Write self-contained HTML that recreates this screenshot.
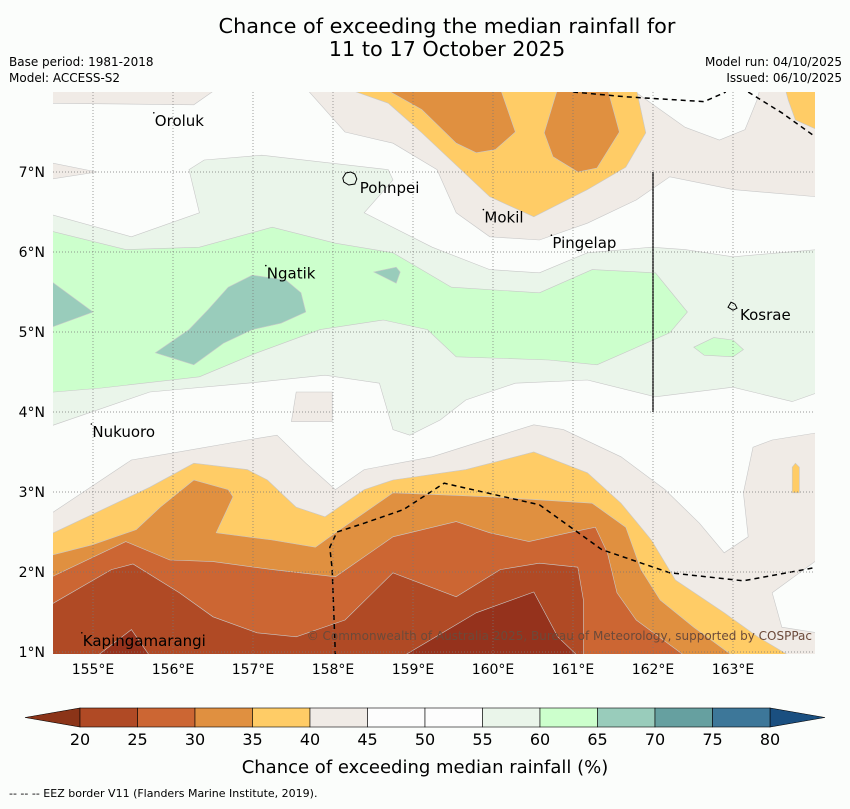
<!DOCTYPE html>
<html><head><meta charset="utf-8"><style>
body{margin:0;background:#fbfdfb;font-family:"Liberation Sans","DejaVu Sans",sans-serif;}
svg text{font-family:"DejaVu Sans","Liberation Sans",sans-serif;}
</style></head><body>
<svg id="c" width="850" height="804" xmlns="http://www.w3.org/2000/svg">
<rect width="850" height="804" fill="#fbfdfb"/>
<text x="447" y="33" font-size="20.8" text-anchor="middle">Chance of exceeding the median rainfall for</text>
<text x="447" y="56" font-size="20.8" text-anchor="middle">11 to 17 October 2025</text>
<text x="9" y="66" font-size="12">Base period: 1981-2018</text>
<text x="9" y="82" font-size="12">Model: ACCESS-S2</text>
<text x="842" y="66" font-size="12" text-anchor="end">Model run: 04/10/2025</text>
<text x="842" y="82" font-size="12" text-anchor="end">Issued: 06/10/2025</text>
<defs><clipPath id="mc"><rect x="53" y="92" width="762" height="562"/></clipPath></defs>
<g id="map" clip-path="url(#mc)"><rect x="53" y="92" width="762" height="562" fill="#fbfdfb"/></g>
<g id="grid"></g><g id="over"></g><g id="cbar"></g>
<text x="425" y="773" font-size="18" text-anchor="middle">Chance of exceeding median rainfall (%)</text>
<text x="9" y="797" font-size="11">--  --  -- EEZ border V11 (Flanders Marine Institute, 2019).</text>
</svg>
<script>
const lonTicks=[155,156,157,158,159,160,161,162,163];
const latTicks=[1,2,3,4,5,6,7];
const cbLevels=[20,25,30,35,40,45,50,55,60,65,70,75,80];
const cbColors=["#b04a25","#cc6633","#e09040","#ffcc66","#f0ebe6","#fdfdfd","#fdfdfd","#eaf5ea","#ccffcc","#99ccbb","#66a0a0","#3d7799"];
const beigeBot=[[154.4,2.68],[155.48,3.4],[156.01,3.49],[156.93,3.65],[157.3,3.71],[157.66,3.36],[158.03,3.03],[158.39,3.28],[159.24,3.44],[160.03,3.69],[160.51,3.84],[160.88,3.78],[161.6,3.44],[162.15,3.03],[162.58,2.61],[162.89,2.24],[163.19,2.44],[163.13,2.99],[163.25,3.56],[163.49,3.65],[164.05,3.74],[164.05,0.95],[154.4,0.95]];
const whiteBR=[[164.05,2.15],[163.49,1.74],[163.61,1.31],[164.05,1.24]];
const beigeSmall=[[157.54,4.25],[157.99,4.25],[157.99,3.88],[157.48,3.88]];
const o35Bot=[[154.4,2.44],[155.71,3.06],[156.26,3.36],[156.93,3.28],[157.18,3.15],[157.54,2.81],[157.9,2.69],[158.39,3.03],[158.75,3.15],[159.66,3.28],[160.51,3.5],[161.18,3.24],[161.6,2.86],[161.98,2.4],[162.28,1.9],[162.89,1.49],[163.31,1.19],[163.71,0.95],[154.4,0.95]];
const o30Bot=[[154.4,2.19],[154.99,2.34],[155.54,2.53],[155.84,2.81],[156.26,3.15],[156.69,3.03],[156.75,2.94],[156.54,2.49],[157.24,2.4],[157.78,2.31],[158.03,2.49],[158.75,2.99],[159.96,2.94],[161.24,2.86],[161.66,2.56],[161.85,2.03],[162.09,1.65],[162.51,1.31],[163.0,0.95],[154.4,0.95]];
const o25Bot=[[154.4,1.9],[155.41,2.38],[155.96,2.15],[156.5,2.13],[157.24,2.03],[158.03,1.94],[158.75,2.44],[159.54,2.63],[159.96,2.49],[160.45,2.38],[160.94,2.49],[161.28,2.56],[161.43,2.24],[161.55,1.74],[161.79,1.4],[162.4,0.95],[154.4,0.95]];
const o20Bot=[[154.4,1.55],[155.23,2.03],[155.5,2.1],[156.08,1.74],[156.5,1.44],[157.05,1.24],[157.54,1.19],[158.15,1.4],[158.75,1.99],[159.54,1.69],[160.09,2.03],[160.58,2.11],[161.06,2.06],[161.13,1.65],[161.13,0.95],[154.4,0.95]];
const o15a=[[158.88,0.95],[159.79,1.49],[160.51,1.75],[160.81,1.19],[161.06,0.95]];
const o15b=[[155.05,0.95],[155.48,1.28],[155.71,0.95]];
const smallOrange=[[163.74,2.99],[163.74,3.31],[163.78,3.36],[163.83,3.31],[163.83,2.99]];
const beigeTop=[[157.66,8.05],[158.15,7.5],[158.75,7.36],[159.3,7.03],[159.54,6.49],[159.96,6.19],[160.58,6.15],[161.18,6.36],[161.79,6.65],[162.21,6.94],[163.0,6.78],[164.05,6.69],[164.05,8.05]];
const beigeTL=[[154.4,8.05],[156.56,8.05],[156.26,7.84],[154.4,7.86]];
const beigeL2=[[154.4,7.13],[155.05,7.0],[154.4,6.9]];
const whiteTR=[[161.71,8.05],[162.09,7.78],[162.4,7.56],[162.83,7.4],[163.15,7.53],[163.3,7.9],[163.34,8.05]];
const o35Top=[[158.15,8.05],[158.69,7.86],[159.11,7.49],[159.96,6.69],[160.51,6.44],[161.18,6.78],[161.66,7.06],[161.91,7.49],[161.79,8.05]];
const o35TR=[[163.65,8.05],[164.05,8.05],[164.05,7.53],[163.78,7.65],[163.69,7.9]];
const o30A=[[158.63,8.05],[159.11,7.78],[159.54,7.36],[159.79,7.24],[160.03,7.28],[160.28,7.5],[160.09,8.05]];
const o30B=[[160.81,8.05],[160.64,7.49],[160.75,7.19],[161.06,7.0],[161.3,7.05],[161.58,7.5],[161.43,8.05]];
const g55=[[154.4,6.49],[155.48,6.19],[156.33,6.49],[156.2,7.03],[156.39,7.15],[157.11,7.21],[158.69,7.03],[158.75,6.9],[158.39,6.49],[159.24,6.06],[159.96,5.78],[160.58,5.74],[161.18,5.99],[161.98,6.06],[162.4,6.03],[163.0,5.94],[164.05,6.03],[164.05,4.24],[163.74,4.13],[163.0,4.31],[162.03,4.19],[161.18,4.4],[160.28,4.36],[159.66,4.15],[159.34,3.9],[158.96,3.71],[158.75,3.78],[158.58,4.36],[157.9,4.46],[156.93,4.36],[155.71,4.25],[154.4,3.8]];
const g60=[[154.4,6.28],[155.41,6.03],[156.33,6.06],[157.24,6.31],[158.03,6.11],[158.75,5.99],[159.48,5.56],[160.58,5.49],[161.24,5.78],[162.03,5.74],[162.43,5.25],[162.21,4.99],[161.3,4.59],[160.7,4.65],[159.54,4.69],[159.18,5.03],[158.63,5.15],[157.84,5.03],[157.05,4.74],[156.33,4.44],[155.11,4.3],[154.4,4.24]];
const g60R=[[162.51,4.81],[162.76,4.93],[163.0,4.9],[163.13,4.78],[163.0,4.69],[162.64,4.71]];
const g65L=[[154.4,5.69],[155.0,5.25],[154.4,5.03]];
const g65M=[[155.78,4.74],[156.2,5.03],[156.44,5.28],[156.69,5.56],[156.99,5.71],[157.41,5.65],[157.6,5.49],[157.66,5.25],[157.35,5.11],[156.99,5.03],[156.63,4.86],[156.26,4.59]];
const g65S=[[158.51,5.75],[158.79,5.81],[158.84,5.75],[158.79,5.61]];
const eezBot=[[158.03,0.95],[157.99,2.03],[157.96,2.31],[158.05,2.5],[158.39,2.61],[158.88,2.78],[159.39,3.11],[160.58,2.84],[161.36,2.28],[162.21,1.99],[163.13,1.89],[164.05,2.06]];
const eezTop1=[[161.0,8.0],[161.66,7.94],[162.64,7.88],[162.91,8.0]];
const eezTop2=[[163.19,8.0],[163.61,7.74],[164.03,7.44]];
const islandNames=["Oroluk","Pohnpei","Mokil","Pingelap","Ngatik","Kosrae","Nukuoro","Kapingamarangi"];
const islandLon=[155.76,158.21,159.88,160.73,157.16,163.0,154.98,154.86];
const islandLat=[7.74,6.9,6.53,6.21,5.83,5.31,3.85,1.24];

const X=lon=>53+(lon-154.5)*80, Y=lat=>92+(8-lat)*80;
const NS="http://www.w3.org/2000/svg";
function mk(tag,parent,attrs){const e=document.createElementNS(NS,tag);for(const k in attrs)e.setAttribute(k,attrs[k]);parent.appendChild(e);return e;}
const map=document.getElementById('map');
function poly(pts,fill,name,closed=true){
  const d=pts.map((p,i)=>(i?'L':'M')+X(p[0]).toFixed(1)+' '+Y(p[1]).toFixed(1)).join(' ')+(closed?'Z':'');
  const e=mk('path',map,{d:d,fill:closed?fill:'none',stroke:closed?'#c8c8c8':'#000','stroke-width':closed?0.6:1.5});
  if(!closed)e.setAttribute('stroke-dasharray','5,4');
  
  
}
poly(beigeBot,cbColors[4],'contour-40-45-south');
poly(whiteBR,'#fbfdfb','contour-45-50-southeast');
poly(beigeSmall,cbColors[4],'contour-40-45-patch');
poly(o35Bot,cbColors[3],'contour-35-40-south');
poly(o30Bot,cbColors[2],'contour-30-35-south');
poly(o25Bot,cbColors[1],'contour-25-30-south');
poly(o20Bot,cbColors[0],'contour-20-25-south');
poly(o15a,'#95321c','contour-below-20-a');
poly(o15b,'#95321c','contour-below-20-b');
poly(smallOrange,cbColors[3],'contour-35-40-patch');
poly(beigeTop,cbColors[4],'contour-40-45-north');
poly(beigeTL,cbColors[4],'contour-40-45-northwest');
poly(beigeL2,cbColors[4],'contour-40-45-west');
poly(whiteTR,'#fbfdfb','contour-45-50-northeast');
poly(o35Top,cbColors[3],'contour-35-40-north');
poly(o35TR,cbColors[3],'contour-35-40-northeast');
poly(o30A,cbColors[2],'contour-30-35-north-a');
poly(o30B,cbColors[2],'contour-30-35-north-b');
poly(g55,cbColors[7],'contour-55-60');
poly(g60,cbColors[8],'contour-60-65');
poly(g60R,cbColors[8],'contour-60-65-east');
poly(g65L,cbColors[9],'contour-65-70-west');
poly(g65M,cbColors[9],'contour-65-70-ngatik');
poly(g65S,cbColors[9],'contour-65-70-small');
poly(eezBot,null,'eez-border-south',false);
poly(eezTop1,null,'eez-border-north-a',false);
poly(eezTop2,null,'eez-border-north-b',false);
let vl=mk('line',map,{x1:X(162),x2:X(162),y1:Y(7),y2:Y(4),stroke:'#222','stroke-width':1.5});



const grid=document.getElementById('grid');
lonTicks.forEach(l=>{
  let g=mk('line',grid,{x1:X(l),x2:X(l),y1:92,y2:654,stroke:'#777','stroke-width':0.7,'stroke-dasharray':'1,2'});
  
  
  let t=mk('text',grid,{x:X(l),y:674,'font-size':14,'text-anchor':'middle'});t.textContent=l+'°E';
  
  
});
latTicks.forEach(l=>{
  let g=mk('line',grid,{x1:53,x2:815,y1:Y(l),y2:Y(l),stroke:'#777','stroke-width':0.7,'stroke-dasharray':'1,2'});
  
  
  let t=mk('text',grid,{x:45,y:Y(l)+5,'font-size':14,'text-anchor':'end'});t.textContent=l+'°N';
  
  
});
const over=document.getElementById('over');
islandNames.forEach((n,i)=>{
  const x=X(islandLon[i]),y=Y(islandLat[i]);
  if(n==='Pohnpei'||n==='Kosrae'){
    let s=mk('path',over,{d:n==='Pohnpei'?`M${x-7} ${y-2} l3 -5 l5 -1 l4 2 l2 5 l-2 5 l-6 1 l-5 -3z`:`M${x-5} ${y} l3 -5 l4 2 l2 4 l-4 2z`,fill:'none',stroke:'#000','stroke-width':1});
    
    
  } else {
    let d=mk('circle',over,{cx:x,cy:y,r:0.8,fill:'#000'});
    
    
  }
  let t=mk('text',over,{x:x+(n==='Pohnpei'?10:n==='Kosrae'?7:1),y:y+13,'font-size':15});t.textContent=n;
  
  
});
let cp=mk('text',over,{x:812,y:640,'font-size':12,'text-anchor':'end',fill:'#6b4a3a'});
cp.textContent='© Commonwealth of Australia 2025, Bureau of Meteorology, supported by COSPPac';



const cb=document.getElementById('cbar');
const CX=v=>80+(v-20)*57.5/5, cy0=708, ch=19;
let lt=mk('polygon',cb,{points:`25,${cy0+ch/2} 80,${cy0} 80,${cy0+ch}`,fill:'#8b3418',stroke:'#000','stroke-width':0.6});


let rt=mk('polygon',cb,{points:`825,${cy0+ch/2} 770,${cy0} 770,${cy0+ch}`,fill:'#1a4f80',stroke:'#000','stroke-width':0.6});


cbColors.forEach((c,i)=>{
  let r=mk('rect',cb,{x:CX(cbLevels[i]),y:cy0,width:CX(cbLevels[i+1])-CX(cbLevels[i]),height:ch,fill:c,stroke:'#000','stroke-width':0.6});
  
  
});
cbLevels.forEach(v=>{
  let t=mk('text',cb,{x:CX(v),y:745,'font-size':16,'text-anchor':'middle'});t.textContent=v;
  
  
});
</script>
</body></html>
